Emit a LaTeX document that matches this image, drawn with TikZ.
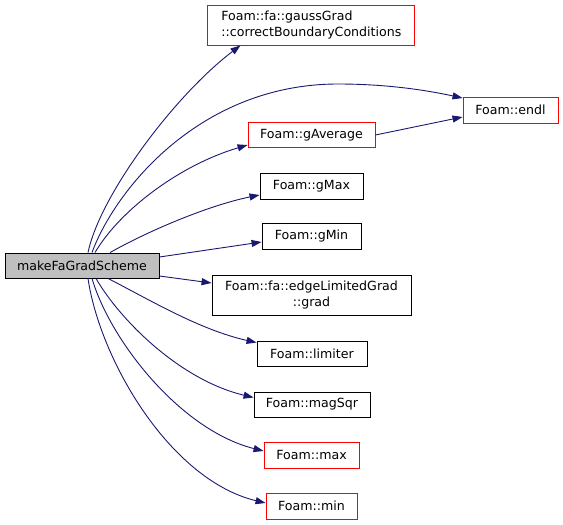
\documentclass[tikz,border=0pt]{standalone}
\usepackage{fontspec}
\setmainfont{DejaVu Sans}
\usetikzlibrary{arrows.meta,calc}
\definecolor{edgeblue}{HTML}{191970}
\definecolor{rootgray}{HTML}{BFBFBF}
\tikzset{
  box/.style={draw=black, fill=white, line width=0.9pt, inner sep=0pt, minimum height=26pt,
    font=\fontsize{12.6}{15.5}\selectfont},
  redbox/.style={box, draw=red},
  rootbox/.style={box, fill=rootgray},
  edge/.style={draw=edgeblue, line width=0.9pt, -{Triangle[length=10pt,width=7pt]}},
}
\begin{document}
\begin{tikzpicture}[x=1pt,y=-1pt]
\useasboundingbox (0,0) rectangle (563,525);
\node[rootbox, minimum width=154pt, minimum height=25pt] (root) at (82,265.5) {makeFaGradScheme};
\node[redbox, minimum width=207pt, minimum height=40pt, align=left] (gauss) at (311.4,25) {Foam::fa::gaussGrad\\::correctBoundaryConditions};
\node[redbox, minimum width=95pt] (endl) at (510.5,110) {Foam::endl};
\node[redbox, minimum width=127pt, minimum height=25pt] (gavg) at (311.5,135) {Foam::gAverage};
\node[box, minimum width=103pt] (gmax) at (311.5,186) {Foam::gMax};
\node[box, minimum width=99pt] (gmin) at (311.5,236) {Foam::gMin};
\node[box, minimum width=199pt, minimum height=40pt, align=center] (grad) at (311.5,295) {Foam::fa::edgeLimitedGrad\\::grad};
\node[box, minimum width=110pt, minimum height=25pt] (limiter) at (312,353.5) {Foam::limiter};
\node[box, minimum width=116pt, minimum height=25pt] (magsqr) at (312,404.5) {Foam::magSqr};
\node[redbox, minimum width=95pt] (max) at (311.5,455) {Foam::max};
\node[redbox, minimum width=91pt] (min) at (311.5,506) {Foam::min};

\draw[edge] ([xshift=6pt]root.north) .. controls (100,195) and (175,95) .. ([xshift=33pt]gauss.south west);
\draw[edge] ([xshift=10pt]root.north) .. controls (115,190) and (200,84) .. (338,84) .. controls (390,84) and (430,91) .. ([yshift=12pt]endl.west);
\draw[edge] (gavg.east) -- ([yshift=-7pt]endl.west);
\draw[edge] ([xshift=13pt]root.north) .. controls (120,210) and (180,165) .. ([yshift=-10pt]gavg.west);
\draw[edge] ([xshift=28pt]root.north) .. controls (150,230) and (210,205) .. ([yshift=-9pt]gmax.west);
\draw[edge] ([yshift=8.5pt]root.east) -- ([yshift=-6pt]gmin.west);
\draw[edge] ([yshift=-10.5pt]root.east) -- ([yshift=12pt]grad.west);
\draw[edge] ([xshift=26pt]root.south) .. controls (150,300) and (200,330) .. ([yshift=-2pt]limiter.north west);
\draw[edge] ([xshift=14pt]root.south) .. controls (120,320) and (180,380) .. ([yshift=7pt]magsqr.west);
\draw[edge] ([xshift=10pt]root.south) .. controls (110,340) and (180,430) .. ([yshift=4pt]max.west);
\draw[edge] ([xshift=6pt]root.south) .. controls (100,360) and (170,480) .. ([yshift=3pt]min.west);
\end{tikzpicture}
\end{document}
